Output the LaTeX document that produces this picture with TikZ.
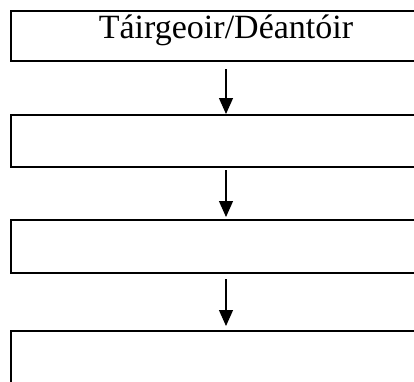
\documentclass[tikz,border=0pt]{standalone}
\usepackage{fontspec}
\setmainfont{Liberation Serif}
\usetikzlibrary{arrows.meta,positioning}

\begin{document}
\begin{tikzpicture}[x=1pt,y=-1pt,
    box/.style={draw,rectangle,line width=2pt,minimum width=430pt,inner sep=0pt},
    flow/.style={line width=1.2pt,-{Triangle[length=16pt,width=14pt]}}]
  \useasboundingbox (0,0) rectangle (414,381);
  \begin{scope}
    \node[box,minimum height=50pt,text height=28pt,text depth=22pt,
      font=\fontsize{34}{40}\selectfont] (maker) at (226,35.5) {Táirgeoir/Déantóir};
    \node[box,minimum height=52pt] (stage2) [below=52.5pt of maker] {};
    \node[box,minimum height=53pt] (stage3) [below=51pt of stage2] {};
    \node[box,minimum height=60pt] (stage4) [below=56pt of stage3] {};
  \end{scope}
  \begin{scope}[every edge/.style={draw,flow}]
    \path (maker) edge[shorten <=7.5pt] (stage2);
    \path (stage2) edge[shorten <=2pt,shorten >=2pt] (stage3);
    \path (stage3) edge[shorten <=5pt,shorten >=4pt] (stage4);
  \end{scope}
\end{tikzpicture}
\end{document}
